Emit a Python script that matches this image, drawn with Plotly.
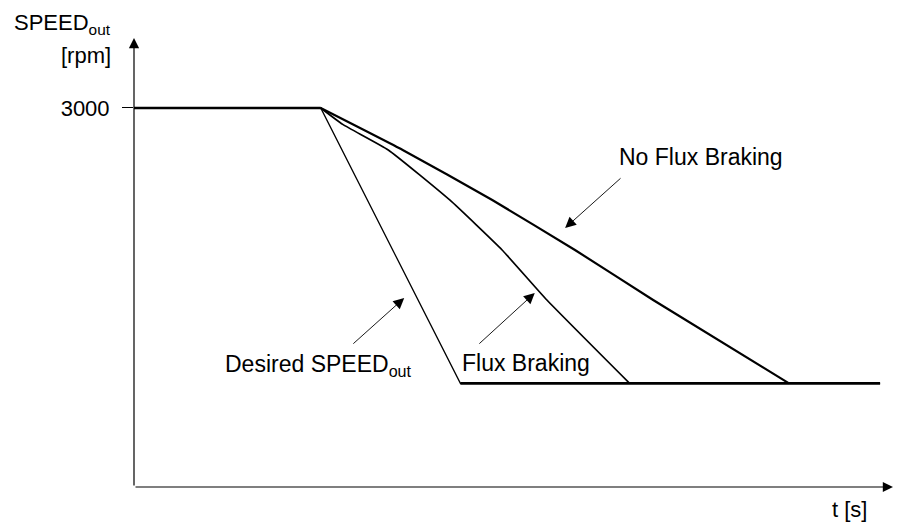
import plotly.graph_objects as go

# time axis in arbitrary units (0..10), speed in rpm
desired_t = [0.0, 2.46, 4.30, 9.83]
desired_rpm = [3000, 3000, 820, 820]

flux_t = [2.46, 2.75, 3.35, 4.16, 4.85, 5.44, 6.53]
flux_rpm = [3000, 2870, 2668, 2272, 1876, 1480, 820]

noflux_t = [2.46, 3.54, 4.72, 5.81, 6.84, 8.63]
noflux_rpm = [3000, 2668, 2272, 1876, 1480, 820]

y_ticks = [3000]
y_tick_labels = ["3000"]

FONT = "Liberation Sans, Arial, Helvetica, sans-serif"

fig = go.Figure()

# desired ramp (thin), hold levels drawn thicker on top
fig.add_trace(go.Scatter(x=desired_t, y=desired_rpm, mode="lines",
                         line=dict(color="black", width=1.3)))
fig.add_trace(go.Scatter(x=desired_t[:2], y=desired_rpm[:2], mode="lines",
                         line=dict(color="black", width=2.6)))
fig.add_trace(go.Scatter(x=desired_t[2:], y=desired_rpm[2:], mode="lines",
                         line=dict(color="black", width=2.6)))
fig.add_trace(go.Scatter(x=flux_t, y=flux_rpm, mode="lines",
                         line=dict(color="black", width=1.7, shape="spline", smoothing=0.4)))
fig.add_trace(go.Scatter(x=noflux_t, y=noflux_rpm, mode="lines",
                         line=dict(color="black", width=2.2, shape="spline", smoothing=0.4)))

annotations = []

# axis arrows
annotations.append(dict(x=10, y=0, ax=0, ay=0, xref="x", yref="y", axref="x", ayref="y",
                        text="", showarrow=True, arrowhead=2, arrowsize=1.7,
                        arrowwidth=1.2, arrowcolor="black"))
annotations.append(dict(x=0, y=3554, ax=0, ay=0, xref="x", yref="y", axref="x", ayref="y",
                        text="", showarrow=True, arrowhead=2, arrowsize=1.7,
                        arrowwidth=1.2, arrowcolor="black"))

# pointer arrows
pointers = [
    ((5.68, 2050), (6.43, 2454)),  # No Flux Braking
    ((5.28, 1536), (4.53, 1124)),  # Flux Braking
    ((3.56, 1496), (2.87, 1124)),  # Desired
]
for (tx, ty), (sx, sy) in pointers:
    annotations.append(dict(x=tx, y=ty, ax=sx, ay=sy, xref="x", yref="y", axref="x", ayref="y",
                            text="", showarrow=True, arrowhead=2, arrowsize=2.4,
                            arrowwidth=0.9, arrowcolor="black"))

# curve labels (data coords)
labels = [
    ("No Flux Braking", 6.36, 2612, 23),
    ("Flux Braking", 4.30, 982, 23),
    ("Desired SPEED<sub>out</sub>", 1.17, 958, 23),
]
for text, x, y, size in labels:
    annotations.append(dict(x=x, y=y, xref="x", yref="y", text=text, showarrow=False,
                            xanchor="left", yanchor="middle",
                            font=dict(family=FONT, size=size, color="black")))

# axis titles (outside plot area -> paper coords)
titles = [
    ("SPEED<sub>out</sub>", -0.0277, 1.031, "right", 22),
    ("[rpm]", -0.0277, 0.960, "right", 22),
    ("t [s]", 0.917, -0.049, "left", 22),
]
for text, x, y, anchor, size in titles:
    annotations.append(dict(x=x, y=y, xref="paper", yref="paper", text=text, showarrow=False,
                            xanchor=anchor, yanchor="middle",
                            font=dict(family=FONT, size=size, color="black")))

fig.update_layout(
    width=903, height=524,
    margin=dict(l=134, r=10, t=38, b=37),
    paper_bgcolor="white", plot_bgcolor="white",
    showlegend=False,
    annotations=annotations,
    font=dict(family=FONT, color="black"),
    xaxis=dict(range=[0, 10], showgrid=False, zeroline=False, showline=False,
               showticklabels=False, ticks=""),
    yaxis=dict(range=[0, 3554], showgrid=False, zeroline=False, showline=False,
               tickvals=y_ticks, ticktext=y_tick_labels, ticks="outside", ticklen=11,
               tickwidth=1, tickcolor="black", ticklabelstandoff=8,
               tickfont=dict(family=FONT, size=22, color="black")),
)

fig.write_html("out.html", config={"displayModeBar": False},
               post_script="document.body.style.margin='0';")
